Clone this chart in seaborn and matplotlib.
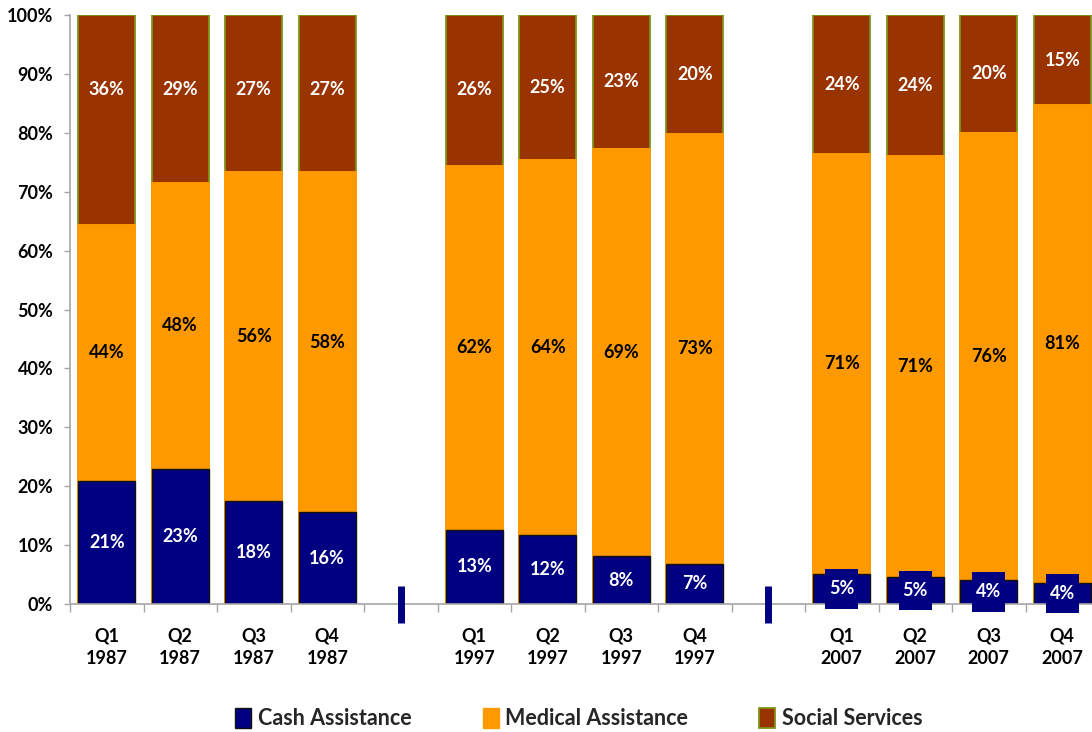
import matplotlib
matplotlib.use("Agg")
import matplotlib.pyplot as plt
import numpy as np
import pandas as pd
import seaborn as sns
from matplotlib.patches import Patch
from matplotlib.path import Path

# Share of spending by quarter (percent of total)
periods = ["Q1\n1987", "Q2\n1987", "Q3\n1987", "Q4\n1987",
           "Q1\n1997", "Q2\n1997", "Q3\n1997", "Q4\n1997",
           "Q1\n2007", "Q2\n2007", "Q3\n2007", "Q4\n2007"]
cash = [20.9, 23.0, 17.5, 15.6, 12.6, 11.7, 8.1, 6.8, 5.1, 4.6, 4.1, 3.6]
medical = [43.5, 48.4, 55.8, 57.7, 61.8, 63.7, 69.2, 73.0, 71.3, 71.4, 75.9, 81.1]
social = [35.6, 28.6, 26.7, 26.7, 25.6, 24.6, 22.7, 20.2, 23.6, 24.0, 20.0, 15.3]
series_names = ["Cash Assistance", "Medical Assistance", "Social Services"]
ytick_values = [0, 10, 20, 30, 40, 50, 60, 70, 80, 90, 100]

# empty separator slots between decades
gap_keys = ["sep_1997", "sep_2007"]
order = periods[:4] + [gap_keys[0]] + periods[4:8] + [gap_keys[1]] + periods[8:]

NAVY = "#000080"
ORANGE = "#FF9900"
BROWN = "#993300"
OLIVE = "#7F9416"
AXIS_GRAY = "#A6A6A6"

sns.set_theme(style="white")
plt.rcParams["font.family"] = ["Lato", "DejaVu Sans"]
plt.rcParams["font.weight"] = "bold"

df = pd.DataFrame({"period": periods, "cash": cash, "medical": medical, "social": social})
df["cash_top"] = df["cash"]
df["medical_top"] = df["cash"] + df["medical"]
df["social_top"] = df["medical_top"] + df["social"]

fig = plt.figure(figsize=(10.92, 7.32), dpi=100)
ax = fig.add_axes([70 / 1092, 1 - 604 / 732, 1029 / 1092, 589 / 732])

bar_w = 0.78
# stacked bars drawn as cumulative totals, back to front
sns.barplot(data=df, x="period", y="social_top", order=order, color=BROWN,
            saturation=1, edgecolor=OLIVE, linewidth=1.3, width=bar_w,
            errorbar=None, ax=ax)
sns.barplot(data=df, x="period", y="medical_top", order=order, color=ORANGE,
            saturation=1, edgecolor=ORANGE, linewidth=1.4, width=bar_w,
            errorbar=None, ax=ax)
sns.barplot(data=df, x="period", y="cash_top", order=order, color=NAVY,
            saturation=1, edgecolor="#111111", linewidth=1.0, width=bar_w,
            errorbar=None, ax=ax)

ax.set_xlim(-0.5, len(order) - 0.5)
ax.set_ylim(0, 100)
ax.set_xlabel("")
ax.set_ylabel("")


def tall_box(x0, y0, width, height, mutation_size):
    """Rectangular label box, padded more vertically than horizontally."""
    px = 0.22 * mutation_size
    py = 0.62 * mutation_size
    x0, y0 = x0 - px, y0 - py
    x1, y1 = x0 + width + 2 * px, y0 + height + 2 * py
    return Path([(x0, y0), (x1, y0), (x1, y1), (x0, y1), (x0, y0)], closed=True)


label_font = dict(fontsize=13, fontweight="bold", ha="center", va="center")
for _, row in df.iterrows():
    xi = order.index(row["period"])
    c, m, s = row["cash"], row["medical"], row["social"]
    if c < 6:
        ax.text(xi, c / 2, f"{c:.0f}%", color="white", clip_on=False, zorder=5,
                bbox=dict(boxstyle=tall_box, facecolor=NAVY, edgecolor="none"),
                **label_font)
    else:
        ax.text(xi, c / 2, f"{c:.0f}%", color="white", zorder=5, **label_font)
    ax.text(xi, c + m / 2, f"{m:.0f}%", color="black", zorder=5, **label_font)
    top_mid = max(c + m + s / 2, 87.3)
    ax.text(xi, top_mid, f"{s:.0f}%", color="white", zorder=5, **label_font)

# small separator markers in the empty slots
for g in gap_keys:
    ax.vlines(order.index(g), -3.2, 3.1, color=NAVY, linewidth=5, clip_on=False, zorder=4)

# axes styling
for side in ("top", "right"):
    ax.spines[side].set_visible(False)
for side in ("left", "bottom"):
    ax.spines[side].set_color(AXIS_GRAY)
    ax.spines[side].set_linewidth(1.2)

ax.set_yticks(ytick_values)
ax.set_yticklabels([f"{v}%" for v in ytick_values])
ax.tick_params(axis="y", which="major", length=4, width=1, color=AXIS_GRAY,
               direction="out", pad=8, labelsize=13, labelcolor="black", left=True)

ax.set_xticks(range(len(order)))
ax.set_xticklabels([p if p in periods else "" for p in order])
ax.tick_params(axis="x", which="major", length=0, pad=17, labelsize=13, labelcolor="black")
for t in ax.get_xticklabels():
    t.set_linespacing(1.4)
    t.set_fontweight("bold")
for t in ax.get_yticklabels():
    t.set_fontweight("bold")
ax.set_xticks(np.arange(-0.5, len(order), 1.0), minor=True)
ax.tick_params(axis="x", which="minor", length=6, width=1, color=AXIS_GRAY,
               direction="out", bottom=True)

handles = [
    Patch(facecolor=NAVY, edgecolor="#111111", linewidth=1.0, label=series_names[0]),
    Patch(facecolor=ORANGE, edgecolor=ORANGE, linewidth=1.0, label=series_names[1]),
    Patch(facecolor=BROWN, edgecolor=OLIVE, linewidth=1.3, label=series_names[2]),
]
fig.legend(handles=handles, loc="lower center", bbox_to_anchor=(0.53, -0.02),
           ncol=3, frameon=False, prop=dict(weight="bold", size=15.5),
           handlelength=0.75, handleheight=1.0, handletextpad=0.3,
           columnspacing=3.3, borderpad=0.3)

fig.savefig("out.png", dpi=100)
